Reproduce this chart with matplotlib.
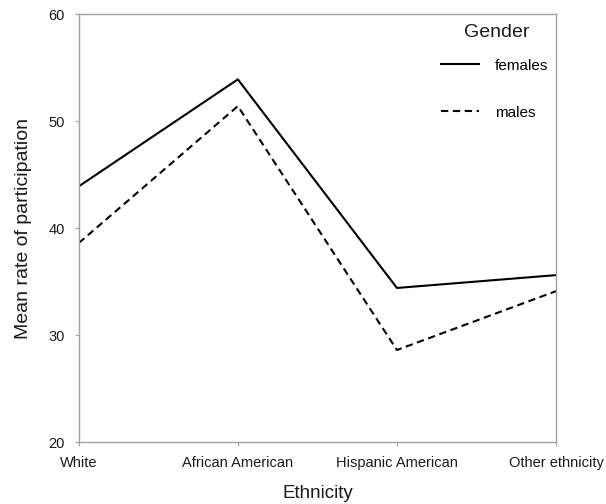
import matplotlib
matplotlib.use('Agg')
import matplotlib.pyplot as plt

# data
ethnicity = ['White', 'African American', 'Hispanic American', 'Other ethnicity']
females = [43.9, 53.9, 34.4, 35.6]
males = [38.6, 51.4, 28.6, 34.1]

plt.rcParams['font.family'] = ['Liberation Sans', 'DejaVu Sans']

fig = plt.figure(figsize=(6.06, 5.04), dpi=100)
ax = fig.add_axes([0.130, 0.123, 0.7875, 0.849])

x = range(len(ethnicity))
ax.plot(x, females, color='black', lw=1.5, label='females')
ax.plot(x, males, color='black', lw=1.5, linestyle=(0, (3.5, 2.2)), label='males')

ax.set_xlim(0, len(ethnicity) - 1)
ax.set_ylim(20, 60)
ax.set_yticks([20, 30, 40, 50, 60])
ax.set_xticks(list(x))
ax.set_xticklabels(ethnicity)

for s in ax.spines.values():
    s.set_color('#a0a0a0')
    s.set_linewidth(1.0)
ax.tick_params(axis='both', length=3, color='#a0a0a0', labelsize=10.5,
               labelcolor='#1a1a1a', pad=7)

ax.set_xlabel('Ethnicity', fontsize=13.5, color='#1a1a1a', labelpad=11)
ax.set_ylabel('Mean rate of participation', fontsize=14, color='#1a1a1a', labelpad=12)

# legend title placed as plain text, entries spaced wide apart
ax.text(0.876, 0.956, 'Gender', transform=ax.transAxes, fontsize=14,
        color='#1a1a1a', ha='center', va='center')
leg = ax.legend(loc='upper right', frameon=False,
                fontsize=11, handlelength=2.5,
                handletextpad=1.0, labelspacing=2.15, borderaxespad=0,
                bbox_to_anchor=(0.996, 0.91))

fig.savefig('out.png', dpi=100)
